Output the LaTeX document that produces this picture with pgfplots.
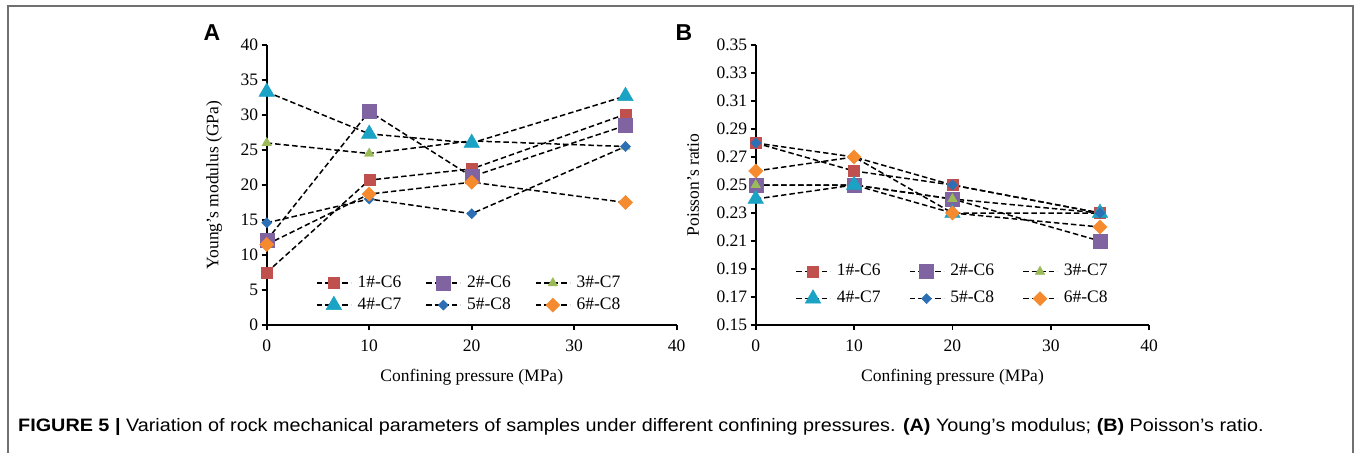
\documentclass[border=0pt]{standalone}
\usepackage{fontspec}
\setmainfont{Liberation Serif}
\newfontfamily\sansf{Liberation Sans}
\newfontfamily\capf[FakeStretch=1.1]{Liberation Sans}
\usepackage{pgfplots}
\pgfplotsset{compat=1.18}
\definecolor{cRed}{HTML}{C0504D}
\definecolor{cPur}{HTML}{8064A2}
\definecolor{cGrn}{HTML}{9BBB59}
\definecolor{cCya}{HTML}{1AA3C4}
\definecolor{cBlu}{HTML}{2C6FB5}
\definecolor{cOra}{HTML}{F58A2E}
\definecolor{frameg}{HTML}{707070}
\newcommand{\lab}[1]{\makebox[70pt][l]{\hspace{4pt}#1}}
\newcommand{\labb}[1]{\makebox[74pt][l]{\hspace{4pt}#1}}
\pgfplotsset{
  myaxis/.style={
    scale only axis, axis lines*=left,
    axis line style={line width=1.9pt, black},
    xmin=0, xmax=40, xtick={0,10,20,30,40},
    tick align=outside, major tick length=5pt,
    every tick/.style={black, line width=1.9pt},
    tick label style={font=\fontsize{17.5}{20}\selectfont, black},
    xticklabel style={yshift=-6pt},
    /pgf/number format/assume math mode=true,
    label style={font=\fontsize{17.5}{20}\selectfont},
    clip=false,
    legend columns=3,
    legend cell align=left,
    legend style={draw=none, fill=none, inner sep=0pt, column sep=0pt,
      nodes={inner sep=2pt, text height=12pt, text depth=4pt},
      font=\fontsize{17.5}{20}\selectfont},
    legend image code/.code={\draw[mark repeat=2,mark phase=2] plot coordinates {(0pt,0pt)(17pt,0pt)(34pt,0pt)};},
  },
  ser/.style={black, line width=1.5pt, dash pattern=on 5.5pt off 3pt},
  mR/.style={ser, mark=square*, mark size=5.5pt, mark options={solid, draw=cRed, fill=cRed, line width=0.4pt}},
  mP/.style={ser, mark=square*, mark size=7pt, mark options={solid, draw=cPur, fill=cPur, line width=0.4pt}},
  mG/.style={ser, mark=triangle*, mark size=5.5pt, mark options={solid, draw=cGrn, fill=cGrn, line width=0.4pt}},
  mC/.style={ser, mark=triangle*, mark size=9pt, mark options={solid, draw=cCya, fill=cCya, line width=0.4pt}},
  mB/.style={ser, mark=square*, mark size=3.6pt, mark options={solid, rotate=45, draw=cBlu, fill=cBlu, line width=0.4pt}},
  mO/.style={ser, mark=square*, mark size=5pt, mark options={solid, rotate=45, draw=cOra, fill=cOra, line width=0.4pt}},
}
\begin{document}
\begin{tikzpicture}
\useasboundingbox (0,0) rectangle (1356pt,453pt);
\fill[white] (0,0) rectangle (1356pt,453pt);
\draw[frameg, line width=1.2pt] (8pt,0pt) -- (8pt,447pt) -- (1353pt,447pt) -- (1353pt,0pt);

% Panel A
\begin{axis}[myaxis,
  at={(266.7pt,128pt)}, anchor=south west,
  width=410pt, height=280pt,
  ymin=0, ymax=40, ytick={0,5,...,40},
  ylabel={Young's modulus (GPa)},
  ylabel style={at={(axis description cs:-0.128,0.5)}, anchor=center},
  xlabel={Confining pressure (MPa)},
  xlabel style={at={(axis description cs:0.5,-0.186)}, anchor=center},
  legend style={at={(axis description cs:0.12,0.186)}, anchor=north west, row sep=2pt},
]
\addplot[mR] coordinates {(0,7.5) (10,20.7) (20,22.3) (35,30.1)};
\addlegendentry{\lab{1\#-C6}}
\addplot[mP] coordinates {(0,12.1) (10,30.5) (20,21.2) (35,28.5)};
\addlegendentry{\lab{2\#-C6}}
\addplot[mG] coordinates {(0,26.0) (10,24.5) (20,26.3) (35,25.5)};
\addlegendentry{\lab{3\#-C7}}
\addplot[mC] coordinates {(0,33.3) (10,27.3) (20,26.0) (35,32.7)};
\addlegendentry{\lab{4\#-C7}}
\addplot[mB] coordinates {(0,14.6) (10,18.0) (20,15.9) (35,25.5)};
\addlegendentry{\lab{5\#-C8}}
\addplot[mO] coordinates {(0,11.5) (10,18.7) (20,20.4) (35,17.5)};
\addlegendentry{\lab{6\#-C8}}
\end{axis}

% Panel B
\begin{axis}[myaxis,
  at={(755.7pt,128pt)}, anchor=south west,
  width=393.5pt, height=280pt,
  ymin=0.15, ymax=0.35, ytick={0.15,0.17,0.19,0.21,0.23,0.25,0.27,0.29,0.31,0.33,0.35},
  yticklabel style={/pgf/number format/.cd, fixed, fixed zerofill, precision=2},
  ylabel={Poisson's ratio},
  ylabel style={at={(axis description cs:-0.159,0.5)}, anchor=center},
  xlabel={Confining pressure (MPa)},
  xlabel style={at={(axis description cs:0.5,-0.186)}, anchor=center},
  legend style={at={(axis description cs:0.10,0.227)}, anchor=north west, row sep=7pt},
]
\addplot[mR] coordinates {(0,0.28) (10,0.26) (20,0.25) (35,0.23)};
\addlegendentry{\labb{1\#-C6}}
\addplot[mP] coordinates {(0,0.25) (10,0.25) (20,0.24) (35,0.21)};
\addlegendentry{\labb{2\#-C6}}
\addplot[mG] coordinates {(0,0.25) (10,0.25) (20,0.24) (35,0.23)};
\addlegendentry{\labb{3\#-C7}}
\addplot[mC] coordinates {(0,0.24) (10,0.25) (20,0.23) (35,0.23)};
\addlegendentry{\labb{4\#-C7}}
\addplot[mB] coordinates {(0,0.28) (10,0.27) (20,0.25) (35,0.23)};
\addlegendentry{\labb{5\#-C8}}
\addplot[mO] coordinates {(0,0.26) (10,0.27) (20,0.23) (35,0.22)};
\addlegendentry{\labb{6\#-C8}}
\end{axis}

\node[anchor=center, font=\sansf\bfseries\fontsize{23}{26}\selectfont] at (212pt,420pt) {A};
\node[anchor=center, font=\sansf\bfseries\fontsize{23}{26}\selectfont] at (684pt,420pt) {B};
\node[anchor=base west, inner sep=0pt, font=\capf\fontsize{18}{20}\selectfont] at (18pt,22pt)
  {\textbf{FIGURE 5 |} Variation of rock mechanical parameters of samples under different confining pressures. \textbf{(A)} Young’s modulus; \textbf{(B)} Poisson’s ratio.};
\end{tikzpicture}
\end{document}
